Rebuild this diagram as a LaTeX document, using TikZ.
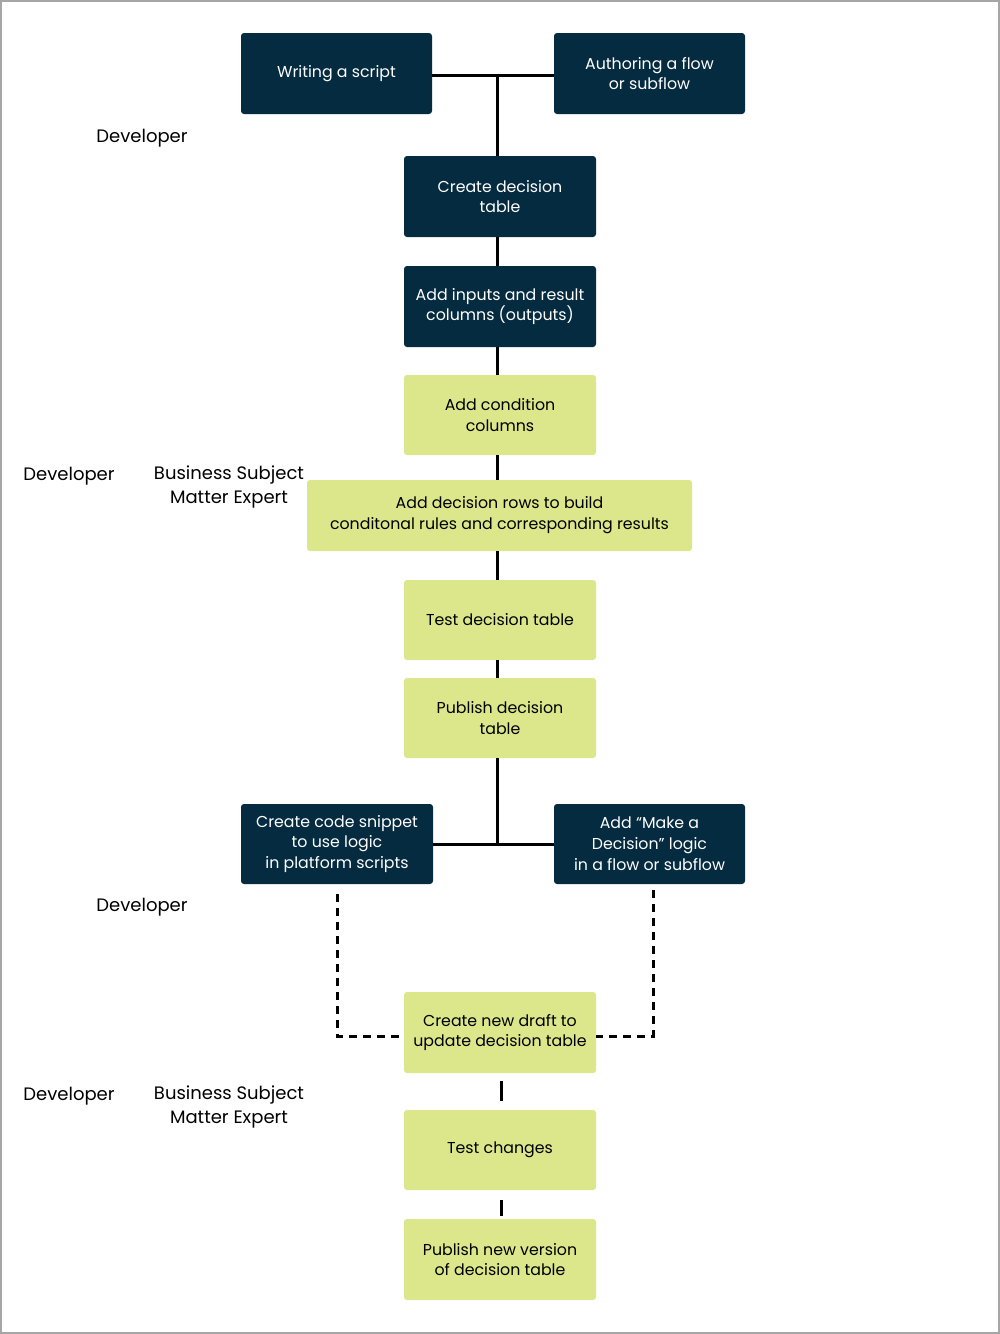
\documentclass[tikz,border=0pt]{standalone}
\usepackage{fontspec}
\setmainfont{Poppins}
\definecolor{navy}{HTML}{052B40}
\definecolor{lime}{HTML}{DCE68B}
\begin{document}
\begin{tikzpicture}[x=0.5pt,y=-0.5pt,
  darkbox/.style={fill=navy,text=white,rounded corners=1.5pt,minimum width=95.5pt,minimum height=40.5pt,align=center,font=\fontsize{7.9}{10.4}\selectfont},
  litebox/.style={fill=lime,text=black,rounded corners=1.5pt,minimum width=96pt,minimum height=40.5pt,align=center,font=\fontsize{7.9}{10.4}\selectfont},
  role/.style={align=center,font=\fontsize{9}{12}\selectfont},
  link/.style={line width=1.5pt},
  dlink/.style={line width=1.5pt,dash pattern=on 4pt off 3pt}]
\useasboundingbox (0,0) rectangle (1000,1334);
\draw[gray!70,line width=0.8pt] (0.8,0.8) rectangle (999.2,1333.2);
% roles
\node[role] (dev1) at (142,138) {Developer};
\node[role] (dev2) at (69,476) {Developer};
\node[role] (bsme1) at (229,487) {Business Subject\\Matter Expert};
\node[role] (dev3) at (142,907) {Developer};
\node[role] (dev4) at (69,1096) {Developer};
\node[role] (bsme2) at (229,1107) {Business Subject\\Matter Expert};
% boxes
\node[darkbox] (script) at (336.5,73.5) {Writing a script};
\node[darkbox] (flow) at (649.5,73.5) {Authoring a flow\\or subflow};
\node[darkbox,minimum width=96pt] (create) at (500,196.5) {Create decision\\table};
\node[darkbox,minimum width=96pt] (inputs) at (500,306.5) {Add inputs and result\\columns (outputs)};
\node[litebox,minimum height=40pt] (cond) at (500,415) {Add condition\\columns};
\node[litebox,minimum width=192.5pt,minimum height=35.5pt] (rows) at (499.5,515.5) {Add decision rows to build\\conditonal rules and corresponding results};
\node[litebox,minimum height=40pt] (test) at (500,620) {Test decision table};
\node[litebox,minimum height=40pt] (publish) at (500,718) {Publish decision\\table};
\node[darkbox,minimum width=96pt,minimum height=40pt] (snippet) at (337,844) {Create code snippet\\to use logic\\in platform scripts};
\node[darkbox,minimum height=40pt] (decide) at (649.5,844) {Add ``Make a\\Decision'' logic\\in a flow or subflow};
\node[litebox] (draft) at (500,1032.5) {Create new draft to\\update decision table};
\node[litebox,minimum height=40pt] (changes) at (500,1150) {Test changes};
\node[litebox] (newver) at (500,1259.5) {Publish new version\\of decision table};
% joins
\coordinate (topjoin) at (497,75);
\coordinate (midjoin) at (497,844);
\draw[link] (script.east |- topjoin) -- (flow.west |- topjoin);
\draw[link] (topjoin) -- (topjoin |- create.north);
\draw[link] (topjoin |- create.south) -- (topjoin |- inputs.north);
\draw[link] (topjoin |- inputs.south) -- (topjoin |- cond.north);
\draw[link] (topjoin |- cond.south) -- (topjoin |- rows.north);
\draw[link] (topjoin |- rows.south) -- (topjoin |- test.north);
\draw[link] (topjoin |- test.south) -- (topjoin |- publish.north);
\draw[link] (topjoin |- publish.south) -- (midjoin);
\draw[link] (snippet.east) -- (decide.west);
% dashed
\coordinate (lcorner) at (337,1036);
\coordinate (rcorner) at (653,1036);
\draw[dlink] (337,894) -- (lcorner) -- (draft.west |- lcorner);
\draw[dlink] (653,890) -- (rcorner) -- (draft.east |- rcorner);
\draw[dlink,dash pattern=on 10pt off 10pt,dash phase=-4pt] (501,1073) -- (501,1110);
\draw[dlink,dash pattern=on 8pt off 10pt,dash phase=-5pt] (501,1190) -- (501,1219);
\end{tikzpicture}
\end{document}
